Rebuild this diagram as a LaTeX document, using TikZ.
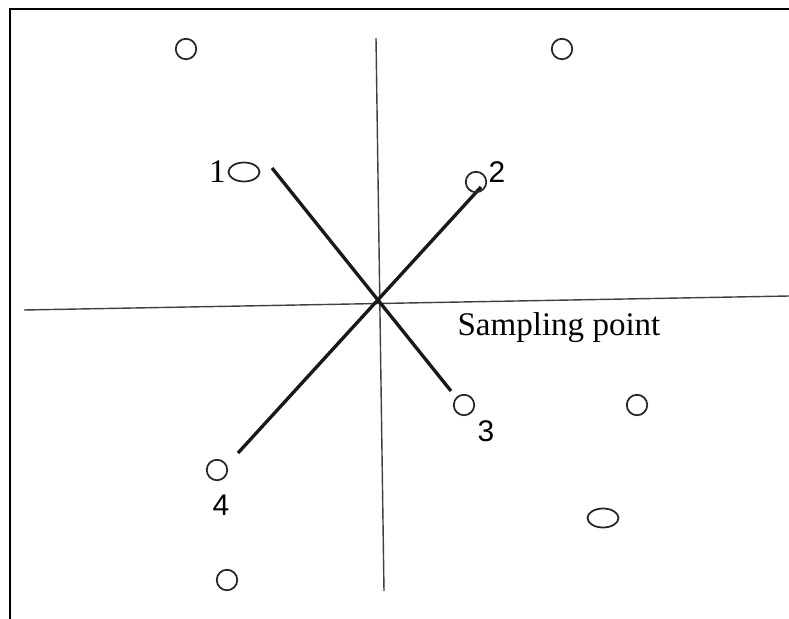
\documentclass[tikz,border=0pt]{standalone}
\usepackage{fontspec}
\setmainfont{Liberation Serif}
\newfontfamily\numfont{Liberation Sans}
\usetikzlibrary{positioning,shapes.geometric}
\tikzset{
  frame/.style      = {line width=1.4pt, black},
  axis/.style       = {line width=0.8pt, black!75},
  spoke/.style      = {line width=1.9pt, black!90},
  pt/.style         = {draw=black!85, line width=1pt, circle, minimum size=0.41cm, inner sep=0pt},
  ovalpt/.style     = {draw=black!85, line width=1pt, ellipse, minimum width=0.62cm, minimum height=0.38cm, inner sep=0pt},
  lbl/.style        = {font=\fontsize{18.8}{21}\selectfont, inner sep=0pt},
  numlbl/.style     = {font=\numfont\fontsize{17}{19}\selectfont, inner sep=0pt},
}
\begin{document}
\begin{tikzpicture}[x=0.02cm, y=-0.02cm]
  \useasboundingbox (0,0) rectangle (789,619);
  % frame
  \draw[frame] (10,619) -- (10,9) -- (789,9);
  % axes
  \coordinate (xl) at (24,310);
  \coordinate (xr) at (789,296);
  \coordinate (yt) at (376,38);
  \coordinate (yb) at (384,591);
  \draw[axis] (xl) -- (xr);
  \draw[axis] (yt) -- (yb);
  % spokes through the sampling point
  \coordinate (s1) at (272,168);
  \coordinate (s2) at (481,187);
  \coordinate (s3) at (451,391);
  \coordinate (s4) at (238,453);
  \draw[spoke] (s1) -- (s3);
  \draw[spoke] (s2) -- (s4);
  \node[lbl] (sp) at (559,328) {Sampling point};
  % points
  \node[pt] (p1) at (186,49) {};
  \node[pt] (p2) at (562,49) {};
  \node[ovalpt] (n1) at (244,172) {};
  \node[pt] (n2) at (476,182) {};
  \node[pt] (n3) at (464,405) {};
  \node[pt] (p3) at (637,405) {};
  \node[pt] (n4) at (217,470) {};
  \node[ovalpt] (p4) at (603,518) {};
  \node[pt] (p5) at (227,580) {};
  \node[lbl, left=1pt of n1] (l1) {1};
  \node[numlbl] (l2) at (497,172) {2};
  \node[numlbl] (l3) at (486,431) {3};
  \node[numlbl] (l4) at (221,505) {4};
\end{tikzpicture}
\end{document}
